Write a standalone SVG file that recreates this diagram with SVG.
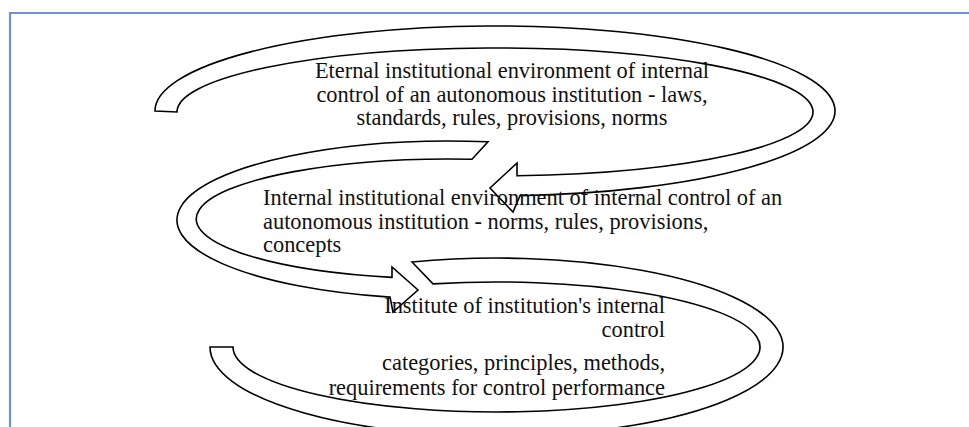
<svg xmlns="http://www.w3.org/2000/svg" width="969" height="427" viewBox="0 0 969 427">
<style>
.frame{fill:none;stroke:#6f92d2;stroke-width:2.2}
.arr{fill:#ffffff;stroke:#000000;stroke-width:1.6;stroke-linejoin:miter}
.t{font-family:"Liberation Serif","Times New Roman",serif;font-size:22.4px;fill:#111111}
</style>
<rect x="0" y="0" width="969" height="427" fill="#ffffff"/>
<path class="frame" d="M10,440 V13 H980"/>
<g id="connectors">
<path id="arrow-outer" class="arr" d="M155,111 A340,85 0 1 1 520,195.7 L513,212 L490,188 L517,163 L517,175.8 A318,64 0 1 0 177,112 Z"/>
<path id="arrow-middle" class="arr" d="M488,141.8 A273,79 0 0 0 390,297.1 L393,312 L418,290 L392,267 L392,277.4 A253,60 0 0 1 472,159.2 Z"/>
<path id="arrow-inner" class="arr" d="M412,262 A286.5,89 0 1 1 210,347 L233,347 A263.5,65 0 1 0 433,283.9 Z"/>
</g>
<g id="node-external">
<text class="t" text-anchor="middle" x="512" y="78">Eternal institutional environment of internal</text>
<text class="t" text-anchor="middle" x="512" y="102">control of an autonomous institution - laws,</text>
<text class="t" text-anchor="middle" x="512" y="125">standards, rules, provisions, norms</text>
</g>
<g id="node-internal">
<text class="t" x="263" y="205">Internal institutional environment of internal control of an</text>
<text class="t" x="263" y="229">autonomous institution - norms, rules, provisions,</text>
<text class="t" x="263" y="252">concepts</text>
</g>
<g id="node-institute">
<text class="t" text-anchor="end" x="665" y="313">Institute of institution's internal</text>
<text class="t" text-anchor="end" x="665" y="337">control</text>
<text class="t" text-anchor="end" x="665" y="370">categories, principles, methods,</text>
<text class="t" text-anchor="end" x="665" y="395">requirements for control performance</text>
</g>
</svg>
